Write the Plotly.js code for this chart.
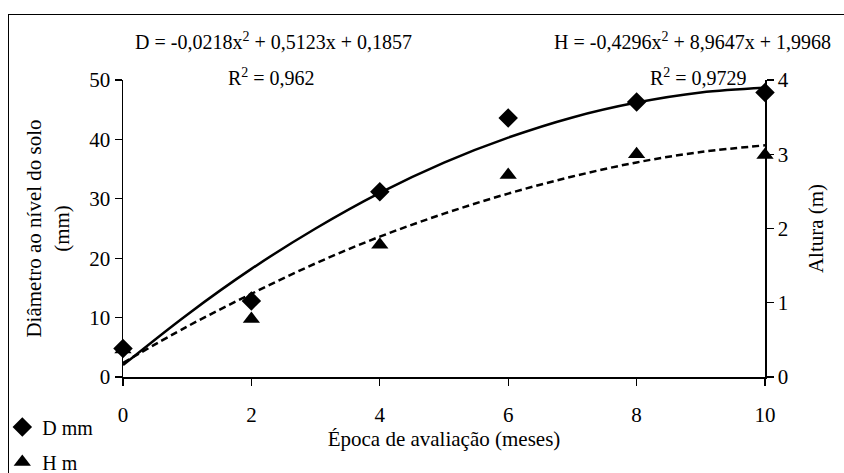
<!DOCTYPE html>
<html>
<head>
<meta charset="utf-8">
<script src="https://cdn.plot.ly/plotly-3.0.1.min.js"></script>
<style>
html,body{margin:0;padding:0;background:#fff;overflow:hidden;}
#wrap{position:relative;width:844px;height:473px;overflow:hidden;}
#chart{width:844px;height:473px;}
#frame{position:absolute;left:8px;top:14px;width:900px;height:520px;border-left:1.5px solid #000;border-top:1.5px solid #000;pointer-events:none;box-sizing:border-box;}
#chart text{font-family:"Times New Roman","Liberation Serif",Times,serif !important;}
</style>
</head>
<body>
<div id="wrap"><div id="chart"></div><div id="frame"></div></div>
<script>
// Observed data
const months = [0, 2, 4, 6, 8, 10];
const diamMM = [4.8, 12.8, 31.2, 43.6, 46.3, 47.9];
const heightM = [0.37, 0.78, 1.78, 2.72, 3.0, 2.99];

// Trend curves
const curveX = [0, 1, 2, 3, 4, 5, 6, 7, 8, 9, 10];
const curveDiam = [2.0, 10.5, 18.2, 25.0, 31.0, 36.1, 40.3, 43.7, 46.2, 47.9, 48.7];
const curveHeight = [0.19, 0.68, 1.12, 1.53, 1.89, 2.20, 2.47, 2.70, 2.89, 3.03, 3.12];

const xTicks = [0, 2, 4, 6, 8, 10];
const yTicks = [0, 10, 20, 30, 40, 50];
const y2Ticks = [0, 1, 2, 3, 4];

const eqD = 'D = -0,0218x<sup>2</sup> + 0,5123x + 0,1857';
const r2D = 'R<sup>2</sup> = 0,962';
const eqH = 'H = -0,4296x<sup>2</sup> + 8,9647x + 1,9968';
const r2H = 'R<sup>2</sup> = 0,9729';

const FONT = 'Times New Roman, Liberation Serif, serif';

const traces = [
  {x: curveX, y: curveDiam, mode: 'lines', line: {color: '#000', width: 2.5, shape: 'spline'}, showlegend: false, hoverinfo: 'skip', yaxis: 'y'},
  {x: curveX, y: curveHeight, mode: 'lines', line: {color: '#000', width: 2.5, dash: '7px,4px', shape: 'spline'}, showlegend: false, hoverinfo: 'skip', yaxis: 'y2'},
  {x: months, y: diamMM, name: 'D mm', legendgroup: 'a', mode: 'markers', marker: {symbol: 'diamond', size: 15, color: '#000'}, yaxis: 'y', cliponaxis: false},
  {x: months, y: heightM, name: 'H m', legendgroup: 'b', mode: 'markers', marker: {symbol: 'triangle-up', size: 15, color: '#000'}, yaxis: 'y2', cliponaxis: false}
];

const layout = {
  width: 844, height: 473,
  margin: {l: 123, r: 79, t: 80, b: 96, autoexpand: false},
  paper_bgcolor: '#fff', plot_bgcolor: '#fff',
  font: {family: FONT, size: 20, color: '#000'},
  showlegend: true,
  legend: {x: -0.188, y: -0.103, xanchor: 'left', yanchor: 'top', traceorder: 'grouped', tracegroupgap: 6,
           font: {family: FONT, size: 20, color: '#000'}, bgcolor: 'rgba(0,0,0,0)', itemwidth: 30},
  xaxis: {
    range: [0, 10], tickvals: xTicks, ticktext: xTicks.map(String), automargin: false,
    showline: true, linecolor: '#000', linewidth: 1.5, ticks: 'outside', ticklen: 7, tickcolor: '#000', tickwidth: 1.2,
    showgrid: false, zeroline: false, ticklabelstandoff: 11,
    tickfont: {family: FONT, size: 21, color: '#000'},
    title: {text: 'Época de avaliação (meses)', font: {family: FONT, size: 21, color: '#000'}, standoff: 0}
  },
  yaxis: {
    range: [0, 50], tickvals: yTicks, ticktext: yTicks.map(String), automargin: false,
    showline: true, linecolor: '#000', linewidth: 1.5, ticks: 'outside', ticklen: 7, tickcolor: '#000', tickwidth: 1.2,
    showgrid: false, zeroline: false,
    tickfont: {family: FONT, size: 21, color: '#000'},
    title: {text: 'Diâmetro ao nível do solo<br>(mm)', font: {family: FONT, size: 21, color: '#000'}, standoff: 14}
  },
  yaxis2: {
    overlaying: 'y', side: 'right', range: [0, 4], tickvals: y2Ticks, ticktext: y2Ticks.map(String), automargin: false,
    showline: true, linecolor: '#000', linewidth: 1.5, ticks: 'outside', ticklen: 7, tickcolor: '#000', tickwidth: 1.2,
    showgrid: false, zeroline: false,
    tickfont: {family: FONT, size: 21, color: '#000'},
    title: {text: 'Altura (m)', font: {family: FONT, size: 21, color: '#000'}, standoff: 20}
  },
  annotations: [
    {xref: 'paper', yref: 'paper', x: 0.016, y: 1.13, xanchor: 'left', yanchor: 'middle', text: eqD, showarrow: false, font: {family: FONT, size: 20, color: '#000'}},
    {xref: 'paper', yref: 'paper', x: 0.161, y: 1.01, xanchor: 'left', yanchor: 'middle', text: r2D, showarrow: false, font: {family: FONT, size: 20, color: '#000'}},
    {xref: 'paper', yref: 'paper', x: 0.668, y: 1.13, xanchor: 'left', yanchor: 'middle', text: eqH, showarrow: false, font: {family: FONT, size: 20, color: '#000'}},
    {xref: 'paper', yref: 'paper', x: 0.818, y: 1.01, xanchor: 'left', yanchor: 'middle', text: r2H, showarrow: false, font: {family: FONT, size: 20, color: '#000'}}
  ]
};

Plotly.newPlot('chart', traces, layout, {displayModeBar: false, staticPlot: true});
</script>
</body>
</html>
